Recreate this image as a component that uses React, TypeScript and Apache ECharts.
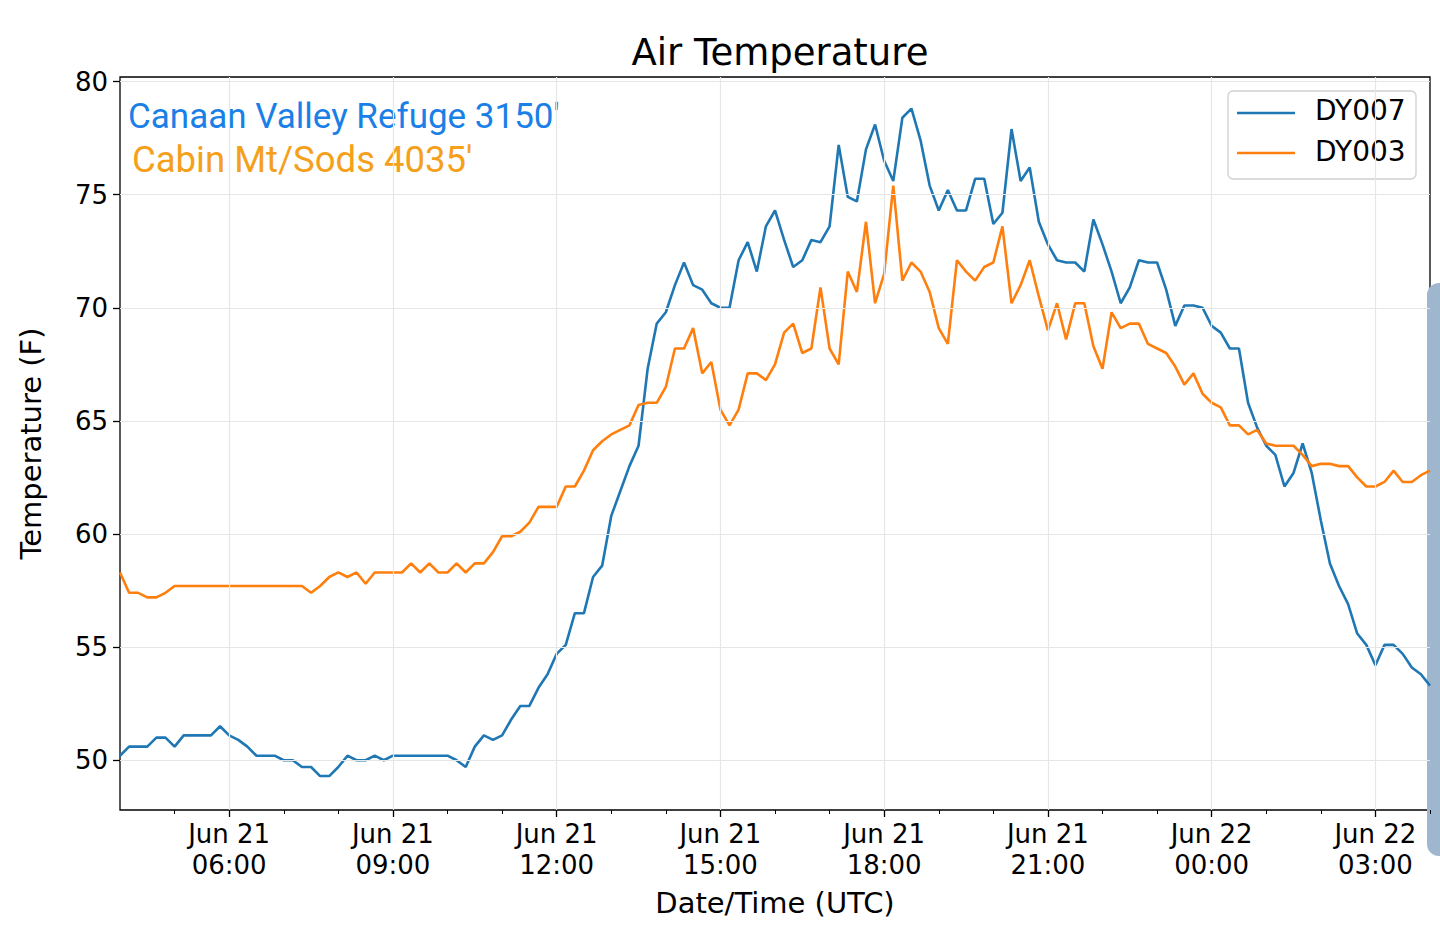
import React, { useEffect, useRef } from 'react';
import * as echarts from 'echarts';

// 10-minute readings, Jun 21 04:00 UTC -> Jun 22 04:00 UTC
const startHour = 4;
const stepHours = 1 / 6;

const dy007 = [
  50.2, 50.6, 50.6, 50.6, 51.0, 51.0, 50.6, 51.1, 51.1, 51.1,
  51.1, 51.5, 51.1, 50.9, 50.6, 50.2, 50.2, 50.2, 50.0, 50.0,
  49.7, 49.7, 49.3, 49.3, 49.7, 50.2, 50.0, 50.0, 50.2, 50.0,
  50.2, 50.2, 50.2, 50.2, 50.2, 50.2, 50.2, 50.0, 49.7, 50.6,
  51.1, 50.9, 51.1, 51.8, 52.4, 52.4, 53.2, 53.8, 54.7, 55.1,
  56.5, 56.5, 58.1, 58.6, 60.8, 61.9, 63.0, 63.9, 67.3, 69.3,
  69.8, 71.0, 72.0, 71.0, 70.8, 70.2, 70.0, 70.0, 72.1, 72.9,
  71.6, 73.6, 74.3, 73.0, 71.8, 72.1, 73.0, 72.9, 73.6, 77.2,
  74.9, 74.7, 77.0, 78.1, 76.5, 75.6, 78.4, 78.8, 77.4, 75.4,
  74.3, 75.2, 74.3, 74.3, 75.7, 75.7, 73.7, 74.2, 77.9, 75.6,
  76.2, 73.8, 72.8, 72.1, 72.0, 72.0, 71.6, 73.9, 72.8, 71.6,
  70.2, 70.9, 72.1, 72.0, 72.0, 70.8, 69.2, 70.1, 70.1, 70.0,
  69.2, 68.9, 68.2, 68.2, 65.8, 64.7, 63.9, 63.5, 62.1, 62.7,
  64.0, 62.7, 60.6, 58.7, 57.7, 56.9, 55.6, 55.1, 54.2, 55.1,
  55.1, 54.7, 54.1, 53.8, 53.3,
];

const dy003 = [
  58.3, 57.4, 57.4, 57.2, 57.2, 57.4, 57.7, 57.7, 57.7, 57.7,
  57.7, 57.7, 57.7, 57.7, 57.7, 57.7, 57.7, 57.7, 57.7, 57.7,
  57.7, 57.4, 57.7, 58.1, 58.3, 58.1, 58.3, 57.8, 58.3, 58.3,
  58.3, 58.3, 58.7, 58.3, 58.7, 58.3, 58.3, 58.7, 58.3, 58.7,
  58.7, 59.2, 59.9, 59.9, 60.1, 60.5, 61.2, 61.2, 61.2, 62.1,
  62.1, 62.8, 63.7, 64.1, 64.4, 64.6, 64.8, 65.7, 65.8, 65.8,
  66.5, 68.2, 68.2, 69.1, 67.1, 67.6, 65.5, 64.8, 65.5, 67.1,
  67.1, 66.8, 67.5, 68.9, 69.3, 68.0, 68.2, 70.9, 68.2, 67.5,
  71.6, 70.7, 73.8, 70.2, 71.5, 75.4, 71.2, 72.0, 71.6, 70.7,
  69.1, 68.4, 72.1, 71.6, 71.2, 71.8, 72.0, 73.6, 70.2, 71.0,
  72.1, 70.5, 69.0, 70.2, 68.6, 70.2, 70.2, 68.3, 67.3, 69.8,
  69.1, 69.3, 69.3, 68.4, 68.2, 68.0, 67.4, 66.6, 67.1, 66.2,
  65.8, 65.6, 64.8, 64.8, 64.4, 64.6, 64.0, 63.9, 63.9, 63.9,
  63.5, 63.0, 63.1, 63.1, 63.0, 63.0, 62.5, 62.1, 62.1, 62.3,
  62.8, 62.3, 62.3, 62.6, 62.8,
];

// hours since Jun 21 00:00 UTC
const xTicks = [6, 9, 12, 15, 18, 21, 24, 27];
const xMinorTicks = [5, 7, 8, 10, 11, 13, 14, 16, 17, 19, 20, 22, 23, 25, 26, 28];
const yTicks = [50, 55, 60, 65, 70, 75, 80];

const FONT = 'DejaVu Sans';
const BLUE = '#1f77b4';
const ORANGE = '#ff7f0e';

const fmtHour = (h: number) => {
  const day = h >= 24 ? 22 : 21;
  const hh = String(Math.round(h) % 24).padStart(2, '0');
  return `Jun ${day}\n${hh}:00`;
};

const toPairs = (arr: number[]) => arr.map((v, i) => [startHour + i * stepHours, v]);

export default function App() {
  const ref = useRef<HTMLDivElement>(null);

  useEffect(() => {
    if (!ref.current) return;
    const chart = echarts.init(ref.current, null, { renderer: 'svg' });
    const grid = { left: 120, top: 77, right: 10, bottom: 124 };
    const gridLines = {
      silent: true,
      symbol: 'none',
      label: { show: false },
      lineStyle: { color: '#e6e6e6', width: 1.2, type: 'solid' as const },
      data: [
        ...xTicks.map((x) => ({ xAxis: x })),
        ...yTicks.map((y) => ({ yAxis: y })),
      ],
    };
    chart.setOption({
      animation: false,
      title: {
        text: 'Air Temperature',
        left: 775,
        top: 29,
        textAlign: 'center',
        textStyle: { fontFamily: FONT, fontSize: 37, fontWeight: 'normal', color: '#000' },
      },
      grid: { ...grid, show: true, borderColor: '#000', borderWidth: 1.3, backgroundColor: 'transparent' },
      xAxis: [
        {
          type: 'value',
          min: 4,
          max: 28,
          name: 'Date/Time (UTC)',
          nameLocation: 'middle',
          nameGap: 78,
          nameTextStyle: { fontFamily: FONT, fontSize: 29, color: '#000' },
          axisLine: { show: false },
          splitLine: { show: false },
          axisTick: { customValues: xTicks, length: 7, lineStyle: { color: '#000', width: 1.3 } },
          axisLabel: {
            customValues: xTicks,
            formatter: fmtHour,
            fontFamily: FONT,
            fontSize: 26,
            lineHeight: 31,
            color: '#000',
            margin: 8,
          },
        },
        {
          type: 'value',
          min: 4,
          max: 28,
          position: 'bottom',
          axisLine: { show: false },
          splitLine: { show: false },
          axisLabel: { show: false },
          axisTick: { customValues: xMinorTicks, length: 4, lineStyle: { color: '#000', width: 1 } },
        },
      ],
      yAxis: {
        type: 'value',
        min: 47.8,
        max: 80.2,
        name: 'Temperature (F)',
        nameLocation: 'middle',
        nameGap: 75,
        nameTextStyle: { fontFamily: FONT, fontSize: 29, color: '#000' },
        axisLine: { show: false },
        splitLine: { show: false },
        axisTick: { customValues: yTicks, length: 7, lineStyle: { color: '#000', width: 1.3 } },
        axisLabel: { customValues: yTicks, fontFamily: FONT, fontSize: 26, color: '#000', margin: 12 },
      },
      series: [
        {
          name: 'grid',
          type: 'line',
          data: [],
          markLine: gridLines,
        },
        {
          name: 'DY007',
          type: 'line',
          data: toPairs(dy007),
          showSymbol: false,
          lineStyle: { color: BLUE, width: 2.6 },
          itemStyle: { color: BLUE },
        },
        {
          name: 'DY003',
          type: 'line',
          data: toPairs(dy003),
          showSymbol: false,
          lineStyle: { color: ORANGE, width: 2.6 },
          itemStyle: { color: ORANGE },
        },
      ],
      graphic: [
        {
          type: 'text', left: 128, top: 99,
          style: { text: "Canaan Valley Refuge 3150'", fill: '#1a7fe6', font: '35px Roboto' },
        },
        {
          type: 'text', left: 132, top: 141,
          style: { text: "Cabin Mt/Sods 4035'", fill: '#f5a01a', font: '36.5px Roboto' },
        },
        {
          type: 'rect', shape: { x: 1228, y: 91, width: 188, height: 88, r: 5 },
          style: { fill: '#fff', stroke: '#d0d0d0', lineWidth: 1.3 },
        },
        { type: 'line', shape: { x1: 1237, y1: 113, x2: 1295, y2: 113 }, style: { stroke: BLUE, lineWidth: 2.6 } },
        { type: 'line', shape: { x1: 1237, y1: 153, x2: 1295, y2: 153 }, style: { stroke: ORANGE, lineWidth: 2.6 } },
        { type: 'text', left: 1315, top: 96, style: { text: 'DY007', fill: '#000', font: `28px "${FONT}"` } },
        { type: 'text', left: 1315, top: 137, style: { text: 'DY003', fill: '#000', font: `28px "${FONT}"` } },
        {
          type: 'rect', shape: { x: 1427, y: 283, width: 26, height: 573, r: 12 },
          style: { fill: '#9fb6cf' },
        },
      ],
    });
    return () => chart.dispose();
  }, []);

  return (
    <div
      ref={ref}
      style={{ position: 'fixed', left: 0, top: 0, width: 1440, height: 934, background: '#fff' }}
    />
  );
}
